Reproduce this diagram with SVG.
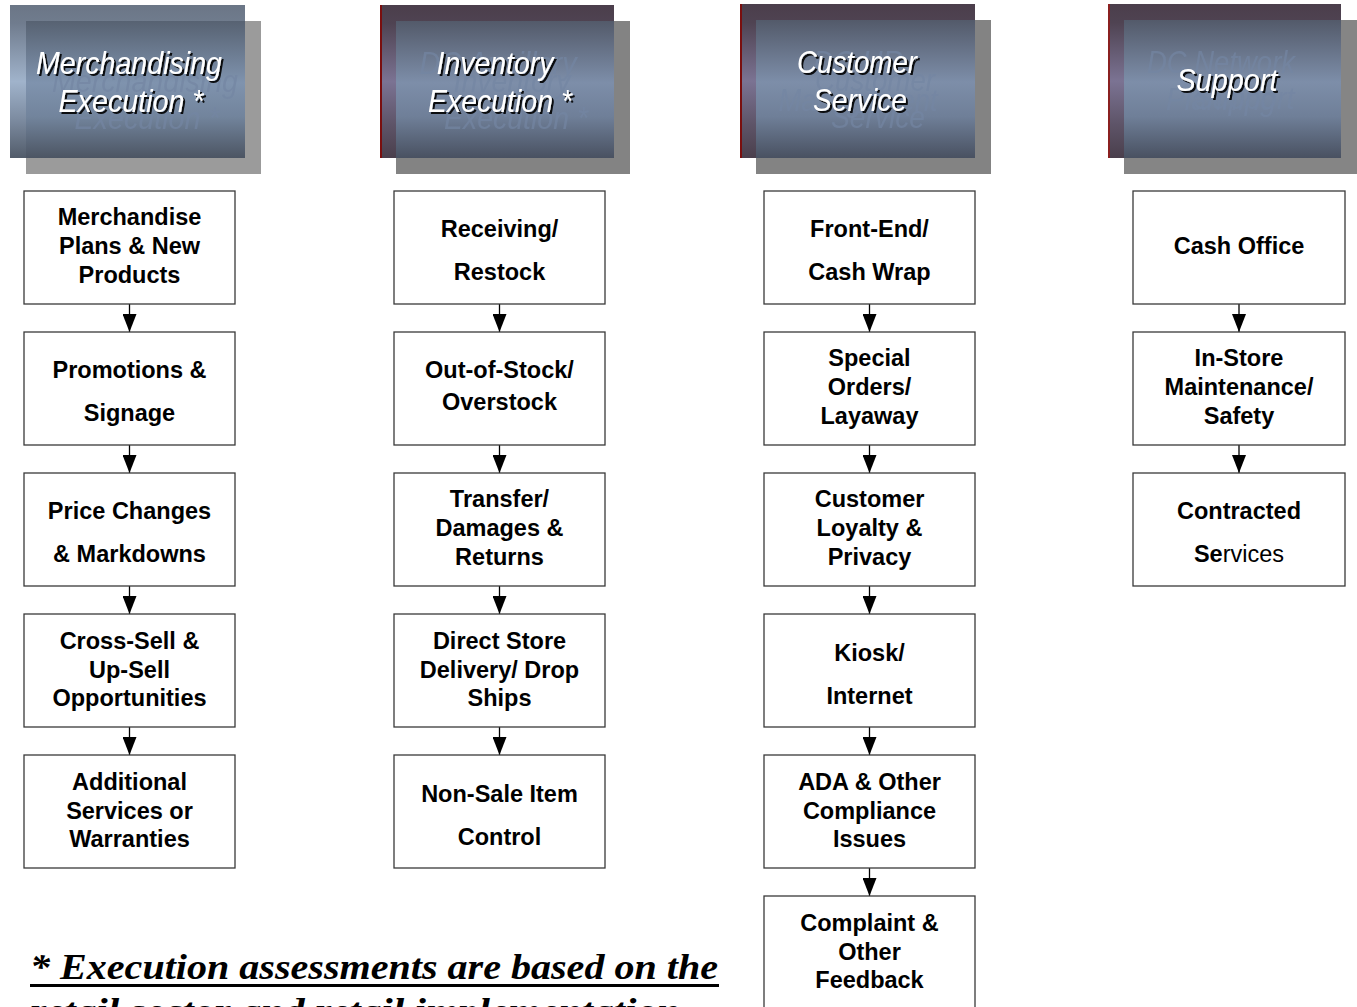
<svg xmlns="http://www.w3.org/2000/svg" width="1357" height="1007" viewBox="0 0 1357 1007">
  <defs>
    <style>
      .title { font-family: "Liberation Sans", Arial, sans-serif; font-style: italic; font-size: 32px; text-anchor: middle; }
      .t-main { fill: #ffffff; filter: url(#titleShade); }
      .t-ghost { fill: #7486a3; opacity: 0.7; }
      .box { fill: #ffffff; stroke: #3a3a3a; stroke-width: 1.3; }
      .lbl { font-family: "Liberation Sans", Arial, sans-serif; font-weight: bold; font-size: 23.5px; text-anchor: middle; fill: #000000; }
      .reg { font-weight: normal; }
      .conn line { stroke: #000000; stroke-width: 1.3; marker-end: url(#ah); }
      .note { font-family: "Liberation Serif", "Times New Roman", serif; font-weight: bold; font-style: italic; font-size: 36px; fill: #000000; }
    </style>
    <filter id="titleShade" x="-10%" y="-30%" width="130%" height="160%">
      <feDropShadow dx="2" dy="2" stdDeviation="0.4" flood-color="#000000" flood-opacity="0.9"/>
    </filter>
    <marker id="ah" viewBox="0 0 18 14" refX="18" refY="7" markerWidth="18" markerHeight="14" markerUnits="userSpaceOnUse" orient="auto">
      <path d="M0,0 L18,7 L0,14 z" fill="#000000"/>
    </marker>
    <!-- header panel fills: first column slate, others with a dark plum band -->
    <linearGradient id="outerSlate" x1="0" y1="0" x2="0" y2="1">
      <stop offset="0" stop-color="#6b7686"/>
      <stop offset="0.12" stop-color="#707c8e"/>
      <stop offset="0.5" stop-color="#a0b3cb"/>
      <stop offset="0.75" stop-color="#7c8ba0"/>
      <stop offset="1" stop-color="#525c6a"/>
    </linearGradient>
    <linearGradient id="outerPlum" x1="0" y1="0" x2="0" y2="1">
      <stop offset="0" stop-color="#4b3e4b"/>
      <stop offset="0.12" stop-color="#4f4352"/>
      <stop offset="0.5" stop-color="#7b7393"/>
      <stop offset="0.78" stop-color="#5e5468"/>
      <stop offset="1" stop-color="#4a3f4c"/>
    </linearGradient>
    <linearGradient id="innerPanel" x1="0" y1="0" x2="0" y2="1">
      <stop offset="0" stop-color="#576272"/>
      <stop offset="0.45" stop-color="#7f93ae"/>
      <stop offset="0.7" stop-color="#72849c"/>
      <stop offset="1" stop-color="#4c5563"/>
    </linearGradient>
    <linearGradient id="innerPanel2" x1="0" y1="0" x2="0" y2="1">
      <stop offset="0" stop-color="#535a6a"/>
      <stop offset="0.45" stop-color="#7d8ea9"/>
      <stop offset="0.7" stop-color="#6f7f98"/>
      <stop offset="1" stop-color="#495161"/>
    </linearGradient>
  </defs>

  <rect x="0" y="0" width="1357" height="1007" fill="#ffffff"/>

  <!-- column headers -->
  <g id="hdr-merch">
    <rect x="26" y="21" width="235" height="153" fill="#9b9b9b"/>
    <rect x="10" y="5" width="235" height="153" fill="url(#outerSlate)"/>
    <rect x="26" y="21" width="219" height="137" fill="url(#innerPanel)"/>
    <text class="title t-ghost" x="145" y="92" textLength="186" lengthAdjust="spacingAndGlyphs">Merchandising</text>
    <text class="title t-ghost" x="147" y="129" textLength="145" lengthAdjust="spacingAndGlyphs">Execution *</text>
    <text class="title t-main" x="129" y="74" textLength="186" lengthAdjust="spacingAndGlyphs">Merchandising</text>
    <text class="title t-main" x="131" y="112" textLength="145" lengthAdjust="spacingAndGlyphs">Execution *</text>
  </g>

  <g id="hdr-inv">
    <rect x="396" y="21" width="234" height="153" fill="#838383"/>
    <rect x="380" y="5" width="234" height="153" fill="url(#outerPlum)"/>
    <rect x="396" y="21" width="218" height="137" fill="url(#innerPanel2)"/>
    <line x1="381" y1="5" x2="381" y2="158" stroke="#7a0e0e" stroke-width="2"/>
    <text class="title t-ghost" x="498" y="74" textLength="157" lengthAdjust="spacingAndGlyphs">DC Ancillary</text>
    <text class="title t-ghost" x="512" y="92" textLength="117" lengthAdjust="spacingAndGlyphs">Inventory</text>
    <text class="title t-ghost" x="516" y="129" textLength="144" lengthAdjust="spacingAndGlyphs">Execution *</text>
    <text class="title t-main" x="495" y="74" textLength="117" lengthAdjust="spacingAndGlyphs">Inventory</text>
    <text class="title t-main" x="500" y="112" textLength="144" lengthAdjust="spacingAndGlyphs">Execution *</text>
  </g>

  <g id="hdr-cust">
    <rect x="756" y="20" width="235" height="154" fill="#838383"/>
    <rect x="740" y="4" width="235" height="154" fill="url(#outerPlum)"/>
    <rect x="756" y="20" width="219" height="138" fill="url(#innerPanel2)"/>
    <line x1="741" y1="4" x2="741" y2="158" stroke="#7a0e0e" stroke-width="2"/>
    <text class="title t-ghost" x="858" y="73" textLength="90" lengthAdjust="spacingAndGlyphs">DC HR</text>
    <text class="title t-ghost" x="858" y="111" textLength="159" lengthAdjust="spacingAndGlyphs">Management</text>
    <text class="title t-ghost" x="875" y="91" textLength="120" lengthAdjust="spacingAndGlyphs">Customer</text>
    <text class="title t-ghost" x="878" y="128" textLength="94" lengthAdjust="spacingAndGlyphs">Service</text>
    <text class="title t-main" x="857" y="73" textLength="120" lengthAdjust="spacingAndGlyphs">Customer</text>
    <text class="title t-main" x="860" y="111" textLength="94" lengthAdjust="spacingAndGlyphs">Service</text>
  </g>

  <g id="hdr-support">
    <rect x="1124" y="20" width="233" height="154" fill="#858585"/>
    <rect x="1108" y="4" width="233" height="154" fill="url(#outerPlum)"/>
    <rect x="1124" y="20" width="217" height="138" fill="url(#innerPanel2)"/>
    <line x1="1109" y1="4" x2="1109" y2="158" stroke="#8a2020" stroke-width="2"/>
    <text class="title t-ghost" x="1221" y="73" textLength="148" lengthAdjust="spacingAndGlyphs">DC Network</text>
    <text class="title t-ghost" x="1221" y="110" textLength="110" lengthAdjust="spacingAndGlyphs">Planning</text>
    <text class="title t-ghost" x="1244" y="109" textLength="101" lengthAdjust="spacingAndGlyphs">Support</text>
    <text class="title t-main" x="1227" y="91" textLength="101" lengthAdjust="spacingAndGlyphs">Support</text>
  </g>

  <!-- connectors -->
  <g id="connectors" class="conn">
    <line x1="129.5" y1="304" x2="129.5" y2="332"/>
    <line x1="129.5" y1="445" x2="129.5" y2="473"/>
    <line x1="129.5" y1="586" x2="129.5" y2="614"/>
    <line x1="129.5" y1="727" x2="129.5" y2="755"/>
    <line x1="499.5" y1="304" x2="499.5" y2="332"/>
    <line x1="499.5" y1="445" x2="499.5" y2="473"/>
    <line x1="499.5" y1="586" x2="499.5" y2="614"/>
    <line x1="499.5" y1="727" x2="499.5" y2="755"/>
    <line x1="869.5" y1="304" x2="869.5" y2="332"/>
    <line x1="869.5" y1="445" x2="869.5" y2="473"/>
    <line x1="869.5" y1="586" x2="869.5" y2="614"/>
    <line x1="869.5" y1="727" x2="869.5" y2="755"/>
    <line x1="869.5" y1="868" x2="869.5" y2="896"/>
    <line x1="1239" y1="304" x2="1239" y2="332"/>
    <line x1="1239" y1="445" x2="1239" y2="473"/>
  </g>

  <!-- Merchandising column -->
  <g id="n-merch-plans">
    <rect class="box" x="24" y="191" width="211" height="113"/>
    <text class="lbl" x="129.5" y="225">Merchandise</text>
    <text class="lbl" x="129.5" y="253.5">Plans &amp; New</text>
    <text class="lbl" x="129.5" y="282.5">Products</text>
  </g>
  <g id="n-promotions">
    <rect class="box" x="24" y="332" width="211" height="113"/>
    <text class="lbl" x="129.5" y="377.5">Promotions &amp;</text>
    <text class="lbl" x="129.5" y="420.5">Signage</text>
  </g>
  <g id="n-price-changes">
    <rect class="box" x="24" y="473" width="211" height="113"/>
    <text class="lbl" x="129.5" y="518.5">Price Changes</text>
    <text class="lbl" x="129.5" y="561.5">&amp; Markdowns</text>
  </g>
  <g id="n-cross-sell">
    <rect class="box" x="24" y="614" width="211" height="113"/>
    <text class="lbl" x="129.5" y="648.5">Cross-Sell &amp;</text>
    <text class="lbl" x="129.5" y="677.5">Up-Sell</text>
    <text class="lbl" x="129.5" y="705.5">Opportunities</text>
  </g>
  <g id="n-additional-services">
    <rect class="box" x="24" y="755" width="211" height="113"/>
    <text class="lbl" x="129.5" y="789.5">Additional</text>
    <text class="lbl" x="129.5" y="818.5">Services or</text>
    <text class="lbl" x="129.5" y="846.5">Warranties</text>
  </g>

  <!-- Inventory column -->
  <g id="n-receiving">
    <rect class="box" x="394" y="191" width="211" height="113"/>
    <text class="lbl" x="499.5" y="236.5">Receiving/</text>
    <text class="lbl" x="499.5" y="279.5">Restock</text>
  </g>
  <g id="n-out-of-stock">
    <rect class="box" x="394" y="332" width="211" height="113"/>
    <text class="lbl" x="499.5" y="377.5">Out-of-Stock/</text>
    <text class="lbl" x="499.5" y="409.5">Overstock</text>
  </g>
  <g id="n-transfer">
    <rect class="box" x="394" y="473" width="211" height="113"/>
    <text class="lbl" x="499.5" y="506.5">Transfer/</text>
    <text class="lbl" x="499.5" y="535.5">Damages &amp;</text>
    <text class="lbl" x="499.5" y="564.5">Returns</text>
  </g>
  <g id="n-direct-store">
    <rect class="box" x="394" y="614" width="211" height="113"/>
    <text class="lbl" x="499.5" y="648.5">Direct Store</text>
    <text class="lbl" x="499.5" y="677.5">Delivery/ Drop</text>
    <text class="lbl" x="499.5" y="705.5">Ships</text>
  </g>
  <g id="n-non-sale">
    <rect class="box" x="394" y="755" width="211" height="113"/>
    <text class="lbl" x="499.5" y="801.5">Non-Sale Item</text>
    <text class="lbl" x="499.5" y="844.5">Control</text>
  </g>

  <!-- Customer Service column -->
  <g id="n-front-end">
    <rect class="box" x="764" y="191" width="211" height="113"/>
    <text class="lbl" x="869.5" y="236.5">Front-End/</text>
    <text class="lbl" x="869.5" y="279.5">Cash Wrap</text>
  </g>
  <g id="n-special-orders">
    <rect class="box" x="764" y="332" width="211" height="113"/>
    <text class="lbl" x="869.5" y="365.5">Special</text>
    <text class="lbl" x="869.5" y="394.5">Orders/</text>
    <text class="lbl" x="869.5" y="423.5">Layaway</text>
  </g>
  <g id="n-loyalty">
    <rect class="box" x="764" y="473" width="211" height="113"/>
    <text class="lbl" x="869.5" y="506.5">Customer</text>
    <text class="lbl" x="869.5" y="535.5">Loyalty &amp;</text>
    <text class="lbl" x="869.5" y="564.5">Privacy</text>
  </g>
  <g id="n-kiosk">
    <rect class="box" x="764" y="614" width="211" height="113"/>
    <text class="lbl" x="869.5" y="660.5">Kiosk/</text>
    <text class="lbl" x="869.5" y="703.5">Internet</text>
  </g>
  <g id="n-ada">
    <rect class="box" x="764" y="755" width="211" height="113"/>
    <text class="lbl" x="869.5" y="789.5">ADA &amp; Other</text>
    <text class="lbl" x="869.5" y="818.5">Compliance</text>
    <text class="lbl" x="869.5" y="846.5">Issues</text>
  </g>
  <g id="n-complaint">
    <rect class="box" x="764" y="896" width="211" height="113"/>
    <text class="lbl" x="869.5" y="930.5">Complaint &amp;</text>
    <text class="lbl" x="869.5" y="959.5">Other</text>
    <text class="lbl" x="869.5" y="987.5">Feedback</text>
  </g>

  <!-- Support column -->
  <g id="n-cash-office">
    <rect class="box" x="1133" y="191" width="212" height="113"/>
    <text class="lbl" x="1239" y="253.5">Cash Office</text>
  </g>
  <g id="n-maintenance">
    <rect class="box" x="1133" y="332" width="212" height="113"/>
    <text class="lbl" x="1239" y="365.5">In-Store</text>
    <text class="lbl" x="1239" y="394.5">Maintenance/</text>
    <text class="lbl" x="1239" y="423.5">Safety</text>
  </g>
  <g id="n-contracted">
    <rect class="box" x="1133" y="473" width="212" height="113"/>
    <text class="lbl" x="1239" y="518.5">Contracted</text>
    <text class="lbl" x="1239" y="561.5">Se<tspan class="reg">rvices</tspan></text>
  </g>

  <!-- footnote -->
  <g id="footnote">
    <text class="note" x="30" y="979" textLength="688" lengthAdjust="spacingAndGlyphs">*  Execution assessments are based on the</text>
    <line x1="30" y1="985.5" x2="719" y2="985.5" stroke="#000000" stroke-width="3"/>
    <text class="note" x="30" y="1023" textLength="650" lengthAdjust="spacingAndGlyphs">retail sector and retail implementation</text>
  </g>
</svg>
